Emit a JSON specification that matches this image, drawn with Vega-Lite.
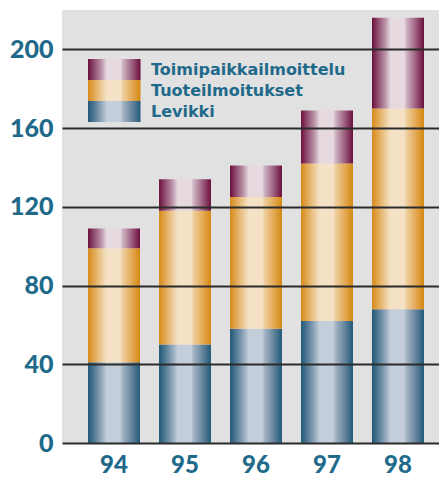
{
  "$schema": "https://vega.github.io/schema/vega-lite/v6.json",
  "autosize": "none",
  "padding": {"left": 62, "top": 10, "right": 0, "bottom": 34},
  "width": 377,
  "height": 433,
  "background": "#ffffff",
  "config": {
    "view": {"fill": "#e1e1e1", "stroke": null},
    "font": "Lato"
  },
  "data": {
    "values": [
      {"year": "94", "series": "Levikki", "value": 41},
      {"year": "94", "series": "Tuoteilmoitukset", "value": 58},
      {"year": "94", "series": "Toimipaikkailmoittelu", "value": 10},
      {"year": "95", "series": "Levikki", "value": 50},
      {"year": "95", "series": "Tuoteilmoitukset", "value": 68},
      {"year": "95", "series": "Toimipaikkailmoittelu", "value": 16},
      {"year": "96", "series": "Levikki", "value": 58},
      {"year": "96", "series": "Tuoteilmoitukset", "value": 67},
      {"year": "96", "series": "Toimipaikkailmoittelu", "value": 16},
      {"year": "97", "series": "Levikki", "value": 62},
      {"year": "97", "series": "Tuoteilmoitukset", "value": 80},
      {"year": "97", "series": "Toimipaikkailmoittelu", "value": 27},
      {"year": "98", "series": "Levikki", "value": 68},
      {"year": "98", "series": "Tuoteilmoitukset", "value": 102},
      {"year": "98", "series": "Toimipaikkailmoittelu", "value": 46}
    ]
  },
  "transform": [
    {"calculate": "indexof(['Levikki', 'Tuoteilmoitukset', 'Toimipaikkailmoittelu'], datum.series)", "as": "stackOrder"}
  ],
  "mark": {"type": "bar", "strokeWidth": 0},
  "encoding": {
    "x": {
      "field": "year",
      "type": "ordinal",
      "scale": {"paddingInner": 0.268, "paddingOuter": 0.289, "align": 0.634},
      "axis": {
        "title": null,
        "labelAngle": 0,
        "ticks": false,
        "domain": false,
        "labelPadding": 10,
        "labelFont": "Lato",
        "labelFontWeight": 900,
        "labelFontSize": 24,
        "labelColor": "#1f6a8a"
      }
    },
    "y": {
      "field": "value",
      "type": "quantitative",
      "stack": "zero",
      "scale": {"domain": [0, 220], "nice": false},
      "axis": {
        "title": null,
        "values": [0, 40, 80, 120, 160, 200],
        "ticks": false,
        "domain": false,
        "grid": true,
        "gridColor": "#2b2b2b",
        "gridWidth": 2,
        "zindex": 1,
        "labelPadding": 9,
        "labelFont": "Lato",
        "labelFontWeight": 900,
        "labelFontSize": 25,
        "labelColor": "#1f6a8a"
      }
    },
    "order": {"field": "stackOrder", "type": "quantitative", "sort": "ascending"},
    "color": {
      "field": "series",
      "type": "nominal",
      "scale": {
        "domain": ["Toimipaikkailmoittelu", "Tuoteilmoitukset", "Levikki"],
        "range": [
          {"expr": "{gradient: 'linear', x1: 0, y1: 0, x2: 1, y2: 0, stops: [{offset: 0, color: '#6b0f3e'}, {offset: 0.1, color: '#8a4468'}, {offset: 0.25, color: '#b98fa5'}, {offset: 0.36, color: '#e6dae0'}, {offset: 0.62, color: '#e6dae0'}, {offset: 0.66, color: '#cfb7c4'}, {offset: 0.85, color: '#9a5a7b'}, {offset: 1, color: '#6a0e3d'}]}"},
          {"expr": "{gradient: 'linear', x1: 0, y1: 0, x2: 1, y2: 0, stops: [{offset: 0, color: '#d68a1a'}, {offset: 0.1, color: '#e0a44a'}, {offset: 0.25, color: '#ecc995'}, {offset: 0.36, color: '#f5e2c6'}, {offset: 0.62, color: '#f5e2c6'}, {offset: 0.66, color: '#efcfa0'}, {offset: 0.85, color: '#e3a852'}, {offset: 1, color: '#d4870f'}]}"},
          {"expr": "{gradient: 'linear', x1: 0, y1: 0, x2: 1, y2: 0, stops: [{offset: 0, color: '#1f5a78'}, {offset: 0.1, color: '#4a7490'}, {offset: 0.25, color: '#8ea4b8'}, {offset: 0.36, color: '#c3ceda'}, {offset: 0.62, color: '#c3ceda'}, {offset: 0.66, color: '#a6b5c5'}, {offset: 0.85, color: '#62829b'}, {offset: 1, color: '#1f5a78'}]}"}
        ]
      },
      "legend": {
        "title": null,
        "orient": "none",
        "legendX": 26,
        "legendY": 49,
        "padding": 0,
        "rowPadding": 0,
        "symbolType": "M-1,-1H4V1H-1Z",
        "symbolSize": 441,
        "symbolStrokeWidth": 0,
        "symbolOpacity": 1,
        "labelOffset": 42,
        "labelFont": "DejaVu Sans",
        "labelFontWeight": "bold",
        "labelFontSize": 16,
        "labelColor": "#1f6a8a",
        "labelLimit": 300
      }
    }
  }
}
